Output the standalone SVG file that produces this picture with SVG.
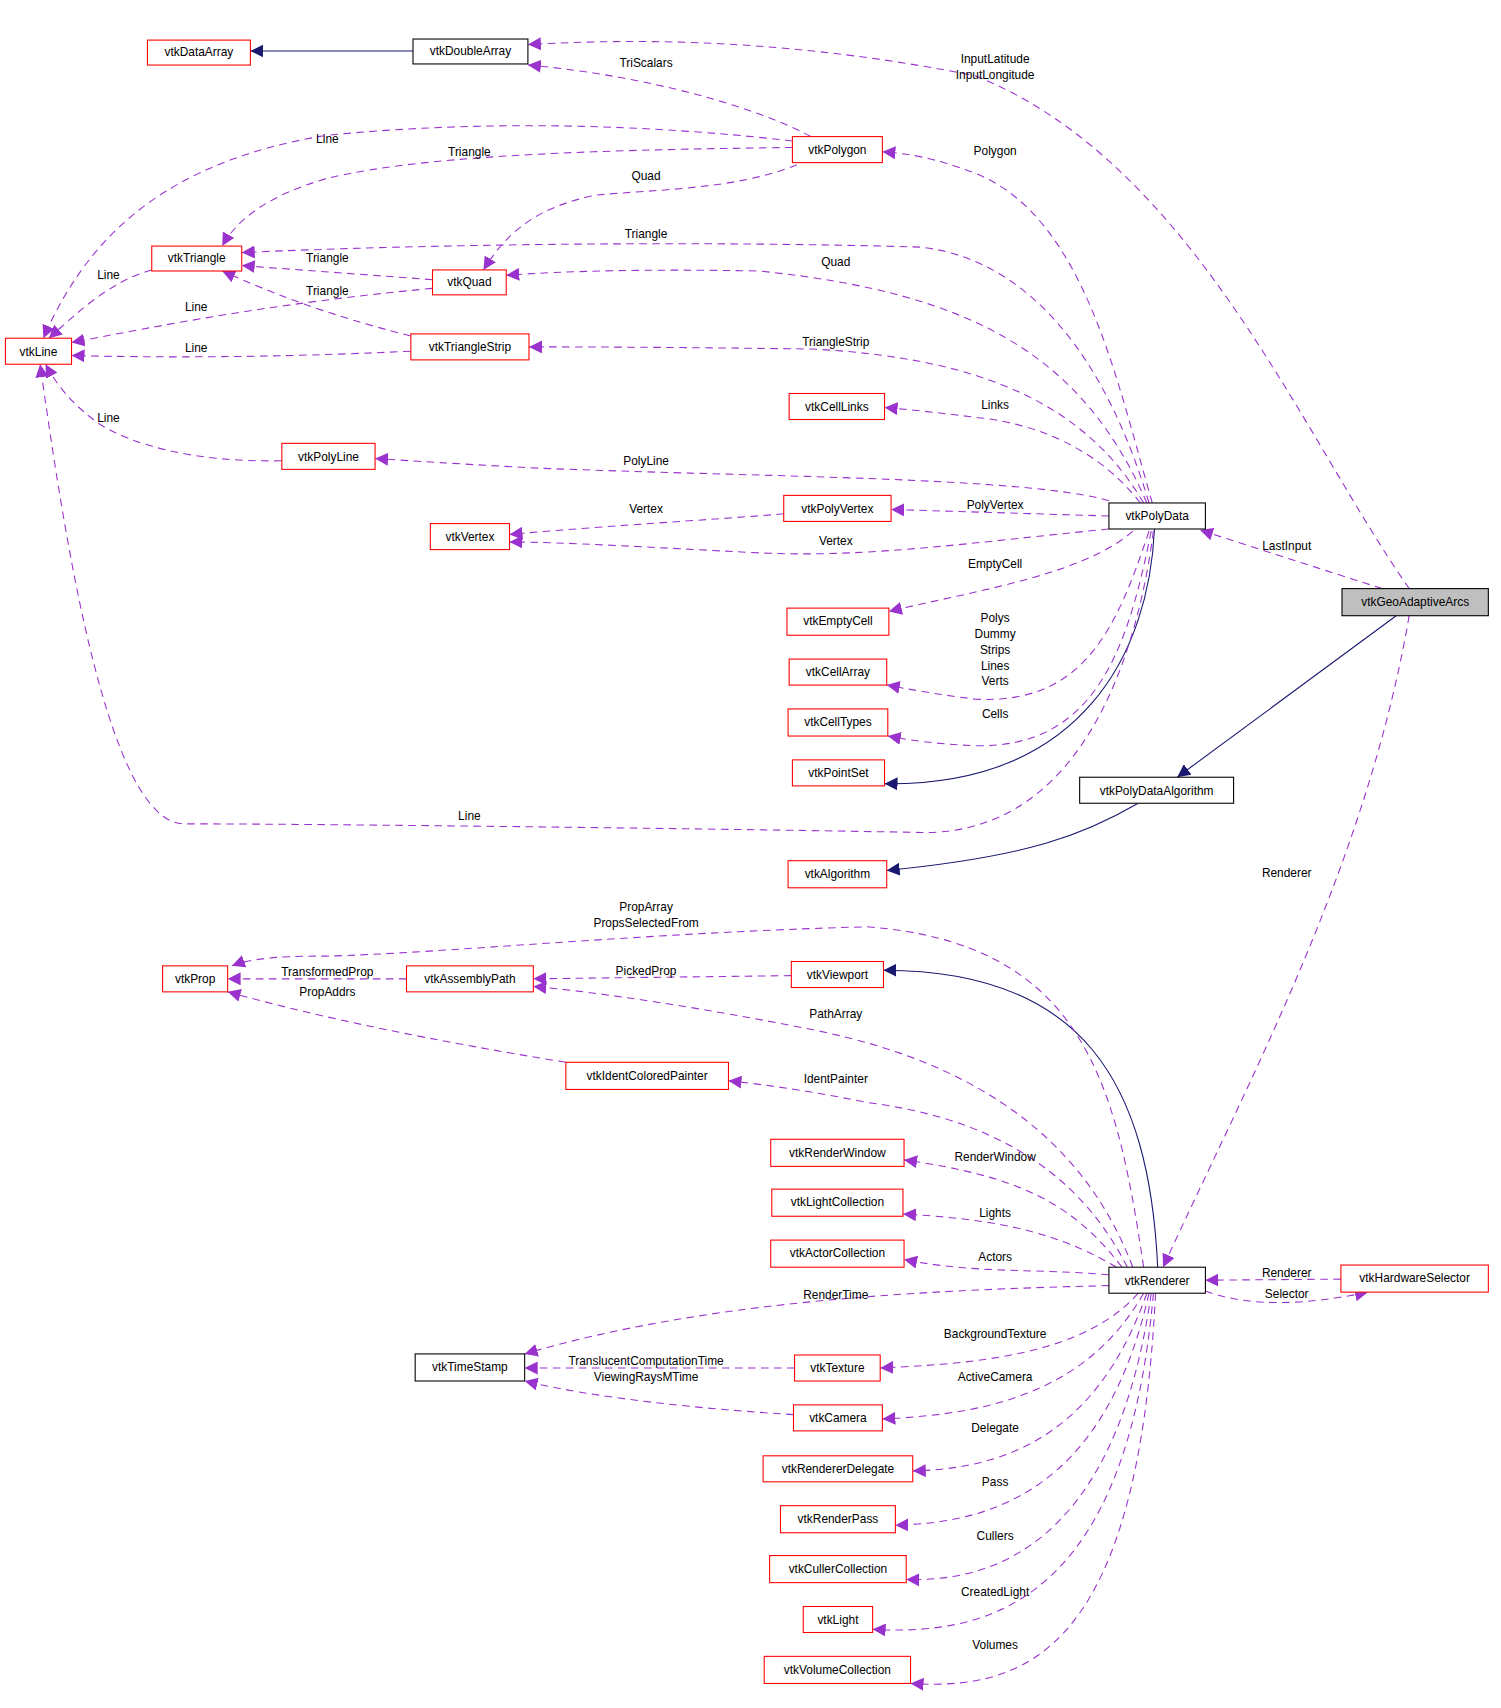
<svg xmlns="http://www.w3.org/2000/svg" width="1501" height="1708" viewBox="0 0 1501 1708">
<defs>
<marker id="ap" viewBox="0 0 10 10" refX="10" refY="5" markerWidth="12" markerHeight="12" markerUnits="userSpaceOnUse" orient="auto"><path d="M0,0L10,5L0,10z" fill="#9a32cd"/></marker>
<marker id="an" viewBox="0 0 10 10" refX="10" refY="5" markerWidth="12" markerHeight="12" markerUnits="userSpaceOnUse" orient="auto"><path d="M0,0L10,5L0,10z" fill="#191970"/></marker>
</defs>
<style>
text{font-family:"Liberation Sans",Arial,sans-serif;font-size:11px;fill:#000;text-anchor:middle}
.n rect{fill:#fff;stroke:#ff0000;stroke-width:1}
.n.b rect{stroke:#000}
.n.g rect{fill:#bfbfbf;stroke:#000}
.d{fill:none;stroke:#9a32cd;stroke-width:1;stroke-dasharray:7,5;marker-end:url(#ap)}
.i{fill:none;stroke:#191970;stroke-width:1;marker-end:url(#an)}
</style>
<rect width="1501" height="1708" fill="#fff"/>
<g transform="scale(1.084)">
<g id="edges">
<path class="i" d="M381,47L231,47"/>
<path class="i" d="M1065,488C1060,600 1000,725 816,723"/>
<path class="i" d="M1288,568L1086,717"/>
<path class="i" d="M1050,741C1000,770 950,790 818,803"/>
<path class="i" d="M1068,1169C1060,1000 1000,895 815,895"/>
<path class="d" d="M1300,543C1200,400 1100,150 900,70C700,30 550,38 487,41"/>
<path class="d" d="M1275,543L1107,489"/>
<path class="d" d="M1300,568C1260,800 1150,1000 1073,1169"/>
<path class="d" d="M748,126C700,100 600,70 487,60"/>
<path class="d" d="M731,130C600,115 450,110 300,125C150,150 80,220 40,312"/>
<path class="d" d="M731,136C600,138 400,140 300,165C250,180 220,200 205,227"/>
<path class="d" d="M735,152C680,175 600,175 550,180C500,190 470,210 446,249"/>
<path class="d" d="M1063,464C1030,350 1000,200 900,160C860,145 840,142 814,140"/>
<path class="d" d="M1060,464C1020,330 950,240 850,228C650,222 400,225 223,233"/>
<path class="d" d="M1058,464C1000,330 900,270 700,250C600,248 520,250 467,254"/>
<path class="d" d="M399,258L223,245"/>
<path class="d" d="M399,266C250,280 150,300 66,316"/>
<path class="d" d="M379,310C300,290 250,270 205,250"/>
<path class="d" d="M379,324C250,330 150,330 66,328"/>
<path class="d" d="M140,249C100,260 70,290 45,312"/>
<path class="d" d="M1055,464C1000,370 900,330 750,322C600,320 520,320 488,320"/>
<path class="d" d="M1052,464C1010,410 950,390 900,385C860,380 840,378 816,376"/>
<path class="d" d="M260,425C180,427 120,410 90,390C70,375 55,360 42,336"/>
<path class="d" d="M1023,462C950,440 700,440 500,432C420,428 380,425 346,423"/>
<path class="d" d="M1023,476L822,470"/>
<path class="d" d="M723,474C650,480 560,485 470,493"/>
<path class="d" d="M1023,488C900,500 800,515 700,510C600,505 520,500 470,500"/>
<path class="d" d="M1045,490C1000,530 900,545 820,564"/>
<path class="d" d="M1060,490C1030,580 1000,650 900,645C860,640 840,636 818,632"/>
<path class="d" d="M1062,490C1040,600 1010,690 900,688C860,686 840,683 819,679"/>
<path class="d" d="M1064,490C1050,600 1000,770 850,768C700,765 300,760 170,760C100,760 60,500 37,336"/>
<path class="d" d="M1055,1169C1030,1000 1000,870 800,855C600,860 400,880 300,882C250,882 230,885 214,891"/>
<path class="d" d="M375,903L210,903"/>
<path class="d" d="M730,900L492,903"/>
<path class="d" d="M1045,1169C1000,1050 900,980 750,950C650,930 550,915 492,910"/>
<path class="d" d="M522,980C400,960 300,940 210,915"/>
<path class="d" d="M1040,1169C990,1070 900,1030 800,1017C740,1005 700,1000 672,997"/>
<path class="d" d="M1035,1169C990,1110 940,1085 834,1070"/>
<path class="d" d="M1030,1169C980,1140 930,1125 833,1120"/>
<path class="d" d="M1023,1176C950,1170 900,1175 834,1162"/>
<path class="d" d="M1023,1186C850,1190 650,1200 484,1249"/>
<path class="d" d="M733,1262L484,1262"/>
<path class="d" d="M732,1305C650,1300 550,1290 484,1274"/>
<path class="d" d="M1050,1193C1000,1250 900,1258 812,1262"/>
<path class="d" d="M1055,1193C1000,1290 900,1305 814,1309"/>
<path class="d" d="M1058,1193C1010,1330 920,1355 842,1357"/>
<path class="d" d="M1060,1193C1020,1370 920,1405 826,1407"/>
<path class="d" d="M1062,1193C1030,1420 920,1460 836,1457"/>
<path class="d" d="M1064,1193C1040,1470 920,1510 805,1503"/>
<path class="d" d="M1066,1193C1050,1520 950,1560 840,1553"/>
<path class="d" d="M1237,1180L1112,1181"/>
<path class="d" d="M1112,1191C1150,1205 1200,1205 1262,1192"/>
</g>
<g id="labels">
<text x="918" y="58">InputLatitude</text><text x="918" y="73">InputLongitude</text>
<text x="1187" y="507">LastInput</text>
<text x="1187" y="809">Renderer</text>
<text x="596" y="62">TriScalars</text>
<text x="302" y="132">Line</text>
<text x="433" y="144">Triangle</text>
<text x="596" y="166">Quad</text>
<text x="918" y="143">Polygon</text>
<text x="596" y="220">Triangle</text>
<text x="771" y="245">Quad</text>
<text x="302" y="242">Triangle</text>
<text x="181" y="287">Line</text>
<text x="302" y="272">Triangle</text>
<text x="181" y="325">Line</text>
<text x="100" y="257">Line</text>
<text x="771" y="319">TriangleStrip</text>
<text x="918" y="377">Links</text>
<text x="100" y="389">Line</text>
<text x="596" y="429">PolyLine</text>
<text x="918" y="470">PolyVertex</text>
<text x="596" y="473">Vertex</text>
<text x="771" y="503">Vertex</text>
<text x="918" y="524">EmptyCell</text>
<text x="918" y="574">Polys</text><text x="918" y="589">Dummy</text><text x="918" y="603">Strips</text><text x="918" y="618">Lines</text><text x="918" y="632">Verts</text>
<text x="918" y="662">Cells</text>
<text x="433" y="756">Line</text>
<text x="596" y="840">PropArray</text><text x="596" y="855">PropsSelectedFrom</text>
<text x="302" y="900">TransformedProp</text>
<text x="596" y="899">PickedProp</text>
<text x="302" y="919">PropAddrs</text>
<text x="771" y="939">PathArray</text>
<text x="771" y="999">IdentPainter</text>
<text x="918" y="1071">RenderWindow</text>
<text x="918" y="1123">Lights</text>
<text x="918" y="1163">Actors</text>
<text x="771" y="1198">RenderTime</text>
<text x="596" y="1259">TranslucentComputationTime</text>
<text x="596" y="1274">ViewingRaysMTime</text>
<text x="918" y="1234">BackgroundTexture</text>
<text x="918" y="1274">ActiveCamera</text>
<text x="918" y="1321">Delegate</text>
<text x="918" y="1371">Pass</text>
<text x="918" y="1421">Cullers</text>
<text x="918" y="1472">CreatedLight</text>
<text x="918" y="1521">Volumes</text>
<text x="1187" y="1178">Renderer</text>
<text x="1187" y="1197">Selector</text>
</g>
<g id="vtkDataArray" class="n"><rect x="136" y="37" width="95" height="23"/><text x="183.5" y="52">vtkDataArray</text></g>
<g id="vtkDoubleArray" class="n b"><rect x="381" y="36" width="106" height="23"/><text x="434" y="51">vtkDoubleArray</text></g>
<g id="vtkPolygon" class="n"><rect x="731" y="126" width="83" height="24"/><text x="772.5" y="142">vtkPolygon</text></g>
<g id="vtkTriangle" class="n"><rect x="140" y="227" width="83" height="23"/><text x="181.5" y="242">vtkTriangle</text></g>
<g id="vtkQuad" class="n"><rect x="399" y="249" width="68" height="23"/><text x="433" y="264">vtkQuad</text></g>
<g id="vtkLine" class="n"><rect x="5" y="312" width="61" height="24"/><text x="35.5" y="328">vtkLine</text></g>
<g id="vtkTriangleStrip" class="n"><rect x="379" y="308" width="109" height="24"/><text x="433.5" y="324">vtkTriangleStrip</text></g>
<g id="vtkCellLinks" class="n"><rect x="728" y="363" width="88" height="24"/><text x="772" y="379">vtkCellLinks</text></g>
<g id="vtkPolyLine" class="n"><rect x="260" y="409" width="86" height="24"/><text x="303" y="425">vtkPolyLine</text></g>
<g id="vtkPolyVertex" class="n"><rect x="723" y="457" width="99" height="24"/><text x="772.5" y="473">vtkPolyVertex</text></g>
<g id="vtkVertex" class="n"><rect x="397" y="483" width="73" height="24"/><text x="433.5" y="499">vtkVertex</text></g>
<g id="vtkPolyData" class="n b"><rect x="1023" y="464" width="89" height="24"/><text x="1067.5" y="480">vtkPolyData</text></g>
<g id="vtkGeoAdaptiveArcs" class="n g"><rect x="1238" y="543" width="135" height="25"/><text x="1305.5" y="559">vtkGeoAdaptiveArcs</text></g>
<g id="vtkEmptyCell" class="n"><rect x="726" y="561" width="94" height="25"/><text x="773" y="577">vtkEmptyCell</text></g>
<g id="vtkCellArray" class="n"><rect x="728" y="608" width="90" height="24"/><text x="773" y="624">vtkCellArray</text></g>
<g id="vtkCellTypes" class="n"><rect x="727" y="654" width="92" height="25"/><text x="773" y="670">vtkCellTypes</text></g>
<g id="vtkPointSet" class="n"><rect x="731" y="701" width="85" height="24"/><text x="773.5" y="717">vtkPointSet</text></g>
<g id="vtkPolyDataAlgorithm" class="n b"><rect x="996" y="717" width="142" height="24"/><text x="1067" y="733">vtkPolyDataAlgorithm</text></g>
<g id="vtkAlgorithm" class="n"><rect x="727" y="794" width="91" height="25"/><text x="772.5" y="810">vtkAlgorithm</text></g>
<g id="vtkProp" class="n"><rect x="150" y="891" width="60" height="24"/><text x="180" y="907">vtkProp</text></g>
<g id="vtkAssemblyPath" class="n"><rect x="375" y="891" width="117" height="24"/><text x="433.5" y="907">vtkAssemblyPath</text></g>
<g id="vtkViewport" class="n"><rect x="730" y="887" width="85" height="24"/><text x="772.5" y="903">vtkViewport</text></g>
<g id="vtkIdentColoredPainter" class="n"><rect x="522" y="980" width="150" height="25"/><text x="597" y="996">vtkIdentColoredPainter</text></g>
<g id="vtkRenderWindow" class="n"><rect x="711" y="1051" width="123" height="25"/><text x="772.5" y="1067">vtkRenderWindow</text></g>
<g id="vtkLightCollection" class="n"><rect x="712" y="1097" width="121" height="25"/><text x="772.5" y="1113">vtkLightCollection</text></g>
<g id="vtkActorCollection" class="n"><rect x="711" y="1144" width="123" height="25"/><text x="772.5" y="1160">vtkActorCollection</text></g>
<g id="vtkRenderer" class="n b"><rect x="1023" y="1169" width="89" height="24"/><text x="1067.5" y="1185">vtkRenderer</text></g>
<g id="vtkHardwareSelector" class="n"><rect x="1237" y="1167" width="136" height="25"/><text x="1305" y="1183">vtkHardwareSelector</text></g>
<g id="vtkTimeStamp" class="n b"><rect x="383" y="1249" width="101" height="25"/><text x="433.5" y="1265">vtkTimeStamp</text></g>
<g id="vtkTexture" class="n"><rect x="733" y="1250" width="79" height="24"/><text x="772.5" y="1266">vtkTexture</text></g>
<g id="vtkCamera" class="n"><rect x="732" y="1296" width="82" height="24"/><text x="773" y="1312">vtkCamera</text></g>
<g id="vtkRendererDelegate" class="n"><rect x="704" y="1343" width="138" height="24"/><text x="773" y="1359">vtkRendererDelegate</text></g>
<g id="vtkRenderPass" class="n"><rect x="720" y="1389" width="106" height="25"/><text x="773" y="1405">vtkRenderPass</text></g>
<g id="vtkCullerCollection" class="n"><rect x="710" y="1435" width="126" height="25"/><text x="773" y="1451">vtkCullerCollection</text></g>
<g id="vtkLight" class="n"><rect x="741" y="1482" width="64" height="24"/><text x="773" y="1498">vtkLight</text></g>
<g id="vtkVolumeCollection" class="n"><rect x="705" y="1528" width="135" height="25"/><text x="772.5" y="1544">vtkVolumeCollection</text></g>
</g>
</svg>
